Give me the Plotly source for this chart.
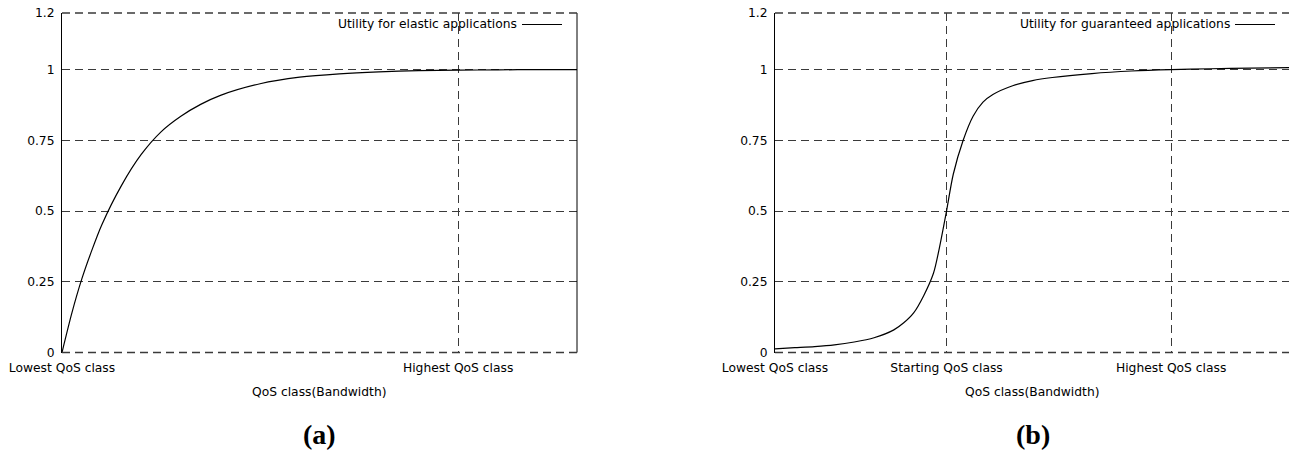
import plotly.graph_objects as go

# ---- data ----
elastic_x = [0, 0.25, 0.5, 0.75, 1, 1.5, 2, 2.5, 3, 3.5, 4, 5, 6, 7, 8, 9, 10, 11, 12, 13]
elastic_y = [0, 0.14, 0.26, 0.36, 0.45, 0.59, 0.70, 0.78, 0.835, 0.877, 0.909, 0.95, 0.973,
             0.985, 0.992, 0.996, 0.998, 0.999, 1.0, 1.0]

guar_x = [0, 0.5, 1, 1.5, 2, 2.5, 3, 3.25, 3.5, 3.75, 4, 4.15, 4.33, 4.5, 4.75, 5, 5.25,
          5.5, 6, 6.5, 7, 8, 9, 10, 11, 12, 13]
guar_y = [0.013, 0.017, 0.021, 0.027, 0.037, 0.052, 0.08, 0.105, 0.14, 0.20, 0.28, 0.37, 0.5,
          0.63, 0.75, 0.835, 0.885, 0.912, 0.943, 0.961, 0.972, 0.986, 0.995, 1.0, 1.003, 1.005, 1.007]

y_ticks = [0, 0.25, 0.5, 0.75, 1, 1.2]
y_ticklabels = ["0", "0.25", "0.5", "0.75", "1", "1.2"]

a_xticks = [0, 10]
a_xticklabels = ["Lowest QoS class", "Highest QoS class"]
b_xticks = [0, 4.33, 10]
b_xticklabels = ["Lowest QoS class", "Starting QoS class", "Highest QoS class"]

x_range = [0, 13]
y_range = [0, 1.2000001]

legend_a = "Utility for elastic applications"
legend_b = "Utility for guaranteed applications"
x_title = "QoS class(Bandwidth)"
panel_labels = ["(a)", "(b)"]

# ---- figure ----
W, H = 1297, 450
OFF = 8  # page body margin
FONT = "DejaVu Sans, Liberation Sans, sans-serif"
FS = 12.3
PW = 515  # plot width in px


def px(p):  # page x -> paper
    return (p - OFF) / W


def py(p):  # page y -> paper
    return 1 - (p - OFF) / H


dom_a = [px(62), px(577)]
dom_b = [px(775), px(1290)]
dom_y = [py(352.5), py(13)]
GRIDCOL = "#3a3a3a"
DASH = "8px,5px"

fig = go.Figure()
fig.add_trace(go.Scatter(x=elastic_x, y=elastic_y, mode="lines",
                         line=dict(color="black", width=1.2, shape="spline", smoothing=0.8),
                         xaxis="x", yaxis="y", showlegend=False, hoverinfo="skip"))
fig.add_trace(go.Scatter(x=guar_x, y=guar_y, mode="lines",
                         line=dict(color="black", width=1.2, shape="spline", smoothing=0.8),
                         xaxis="x2", yaxis="y2", showlegend=False, hoverinfo="skip"))

grid = dict(showgrid=True, gridcolor=GRIDCOL, gridwidth=1, griddash=DASH)
tickfont = dict(family=FONT, size=FS, color="black")


def xaxis(dom, anchor, tv, tt):
    return dict(domain=dom, anchor=anchor, range=x_range, tickmode="array", tickvals=tv, ticktext=tt,
                tickfont=tickfont, ticks="", zeroline=False, showline=False, automargin=False,
                ticklabelstandoff=6, ticklabeloverflow="allow", **grid)


def yaxis(anchor):
    return dict(domain=dom_y, anchor=anchor, range=y_range, tickmode="array", tickvals=y_ticks,
                ticktext=y_ticklabels, tickfont=tickfont, ticks="", zeroline=False, automargin=False,
                showline=True, linecolor="black", linewidth=1, ticklabelstandoff=4,
                ticklabeloverflow="allow", **grid)


fig.update_layout(
    width=W, height=H, margin=dict(l=0, r=0, t=0, b=0),
    paper_bgcolor="white", plot_bgcolor="white",
    xaxis=xaxis(dom_a, "y", a_xticks, a_xticklabels),
    yaxis=yaxis("x"),
    xaxis2=xaxis(dom_b, "y2", b_xticks, b_xticklabels),
    yaxis2=yaxis("x2"),
    showlegend=False,
)

anns = []
shapes = []
for dom, xr, yr, leg, lab in [(dom_a, "x", "y", legend_a, panel_labels[0]),
                              (dom_b, "x2", "y2", legend_b, panel_labels[1])]:
    cx = (dom[0] + dom[1]) / 2
    # right border (solid)
    shapes.append(dict(type="line", xref=xr + " domain", yref=yr + " domain", x0=1, x1=1, y0=0, y1=1,
                       line=dict(color="black", width=1)))
    # top and bottom borders (dashed, like the grid)
    for yy in (0, 1):
        shapes.append(dict(type="line", xref=xr + " domain", yref=yr + " domain", x0=0, x1=1, y0=yy, y1=yy,
                           line=dict(color=GRIDCOL, width=1.3, dash=DASH)))
    # legend sample line
    shapes.append(dict(type="line", xref=xr + " domain", yref="paper",
                       x0=1 - 55 / PW, x1=1 - 15 / PW, y0=py(24.5), y1=py(24.5),
                       line=dict(color="black", width=1.2)))
    anns.append(dict(text=leg, xref=xr + " domain", yref="paper", x=1 - 58 / PW, y=py(24),
                     xanchor="right", yanchor="middle", showarrow=False,
                     font=dict(family=FONT, size=FS, color="black")))
    anns.append(dict(text=x_title, xref="paper", yref="paper", x=cx, y=py(392),
                     xanchor="center", yanchor="middle", showarrow=False,
                     font=dict(family=FONT, size=FS, color="black")))
    anns.append(dict(text="<b>" + lab + "</b>", xref="paper", yref="paper", x=cx, y=py(434),
                     xanchor="center", yanchor="middle", showarrow=False,
                     font=dict(family="Liberation Serif, Times New Roman, serif", size=28, color="black")))

fig.update_layout(annotations=anns, shapes=shapes)
fig.write_html("out.html")
